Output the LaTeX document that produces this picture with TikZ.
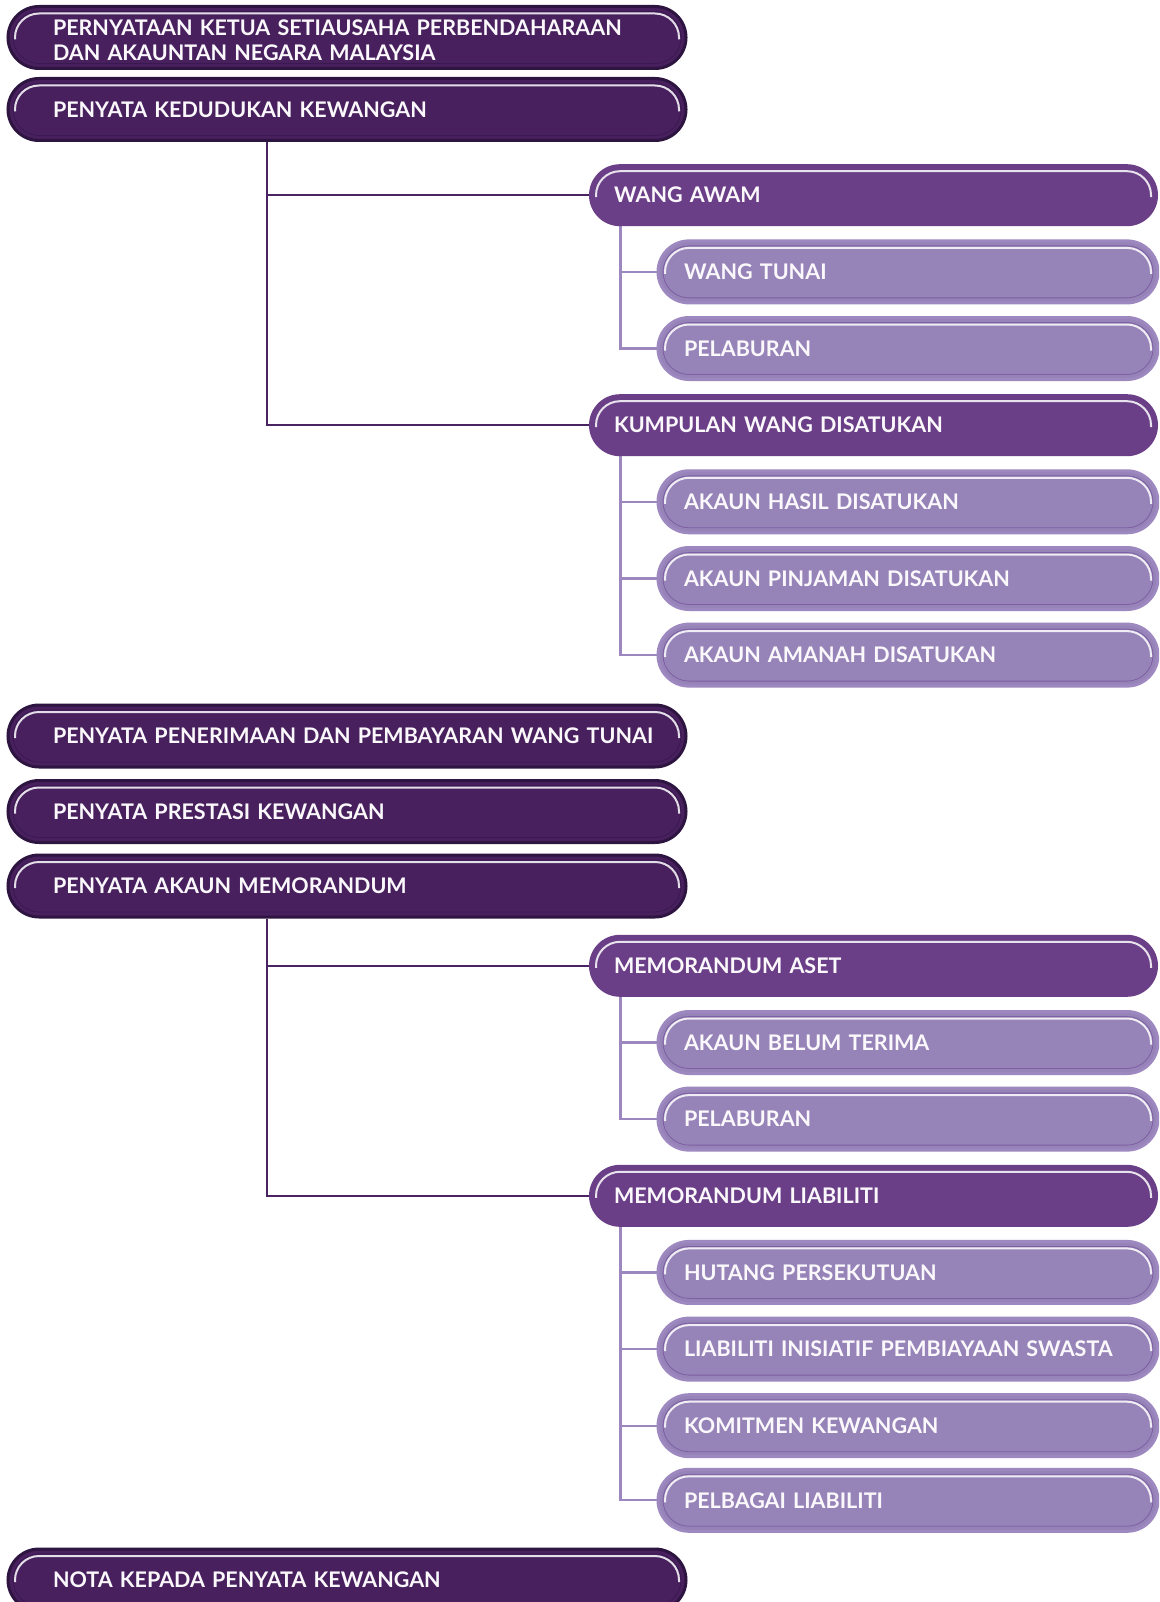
\documentclass[tikz,border=0pt]{standalone}
\usepackage{fontspec}
\setmainfont{Lato}
\usetikzlibrary{calc}
\pgfdeclarelayer{bgzero}
\pgfdeclarelayer{background}
\pgfsetlayers{bgzero,background,main}
\definecolor{dk}{HTML}{48205E}
\definecolor{dkline}{HTML}{2E1440}
\definecolor{dkin}{HTML}{3A1850}
\definecolor{md}{HTML}{6B3F87}
\definecolor{lt}{HTML}{9683B8}
\definecolor{ltring}{HTML}{9E88C0}
\definecolor{ltin}{HTML}{7D5FA2}
\definecolor{cdk}{HTML}{4A2462}
\definecolor{clt}{HTML}{9C88BE}
\definecolor{txt}{HTML}{FBF8FC}
\tikzset{
  pill/.style={rounded corners=31pt, minimum height=62pt, align=left,
    font=\fontsize{21.5}{25}\selectfont\bfseries, text=txt},
  hilite/.style={path picture={
    \ifx#1\empty\else
    \draw[#1, line width=0.8pt, rounded corners=26pt]
      ([shift={(5pt,-5pt)}]path picture bounding box.north west) rectangle
      ([shift={(-5pt,5pt)}]path picture bounding box.south east);
    \fi
    \draw[white, line width=2pt, rounded corners=24pt, opacity=.85]
      ([shift={(7pt,-33pt)}]path picture bounding box.north west) |-
      ([shift={(0pt,-7pt)}]path picture bounding box.north) -|
      ([shift={(-7pt,-33pt)}]path picture bounding box.north east);
  }},
  lvlone/.style={pill, fill=dk, draw=dkline, line width=3pt,
    inner xsep=19pt, text width=640pt,
    execute at begin node={\leftskip=26pt\hyphenpenalty=10000},
    hilite=dkin},
  lvltwo/.style={pill, fill=md, inner xsep=25pt, text width=519pt, hilite=\empty},
  lvlthree/.style={pill, fill=lt, draw=ltring, line width=3pt,
    inner xsep=26pt, text width=448pt, hilite=ltin},
  cone/.style={draw=cdk, line width=2.2pt},
  cthree/.style={draw=clt, line width=2.2pt},
}
\begin{document}
\begin{tikzpicture}[x=1pt,y=-1pt]
\useasboundingbox (0,0) rectangle (1159,1602);
\clip (0,0) rectangle (1159,1602);
\begin{pgfonlayer}{bgzero}
\fill[white] (0,0) rectangle (1159,1602);
\end{pgfonlayer}

% level one
\node[lvlone, text height=22pt] (s1) at (347,37.5) {PERNYATAAN KETUA SETIAUSAHA PERBENDAHARAAN\\DAN AKAUNTAN NEGARA MALAYSIA};
\node[lvlone] (s2) at (347,109.5) {PENYATA KEDUDUKAN KEWANGAN};
\node[lvlone] (s3) at (347,736) {PENYATA PENERIMAAN DAN PEMBAYARAN WANG TUNAI};
\node[lvlone] (s4) at (347,811.5) {PENYATA PRESTASI KEWANGAN};
\node[lvlone] (s5) at (347,886) {PENYATA AKAUN MEMORANDUM};
\node[lvlone] (s6) at (347,1580) {NOTA KEPADA PENYATA KEWANGAN};

% level two
\coordinate (t1) at (267,0);
\coordinate (t2) at (620.5,0);
\node[lvltwo] (wa) at (873.5,195.2) {WANG AWAM};
\node[lvltwo] (kwd) at (873.5,425.2) {KUMPULAN WANG DISATUKAN};
\node[lvltwo] (ma) at (873.5,965.8) {MEMORANDUM ASET};
\node[lvltwo] (ml) at (873.5,1195.8) {MEMORANDUM LIABILITI};

% level three
\node[lvlthree] (wt) at (908,271.9) {WANG TUNAI};
\node[lvlthree] (pl1) at (908,348.5) {PELABURAN};
\node[lvlthree] (ahd) at (908,501.8) {AKAUN HASIL DISATUKAN};
\node[lvlthree] (apd) at (908,578.5) {AKAUN PINJAMAN DISATUKAN};
\node[lvlthree] (aad) at (908,655.1) {AKAUN AMANAH DISATUKAN};
\node[lvlthree] (abt) at (908,1042.5) {AKAUN BELUM TERIMA};
\node[lvlthree] (pl2) at (908,1119.1) {PELABURAN};
\node[lvlthree] (hp) at (908,1272.4) {HUTANG PERSEKUTUAN};
\node[lvlthree] (lip) at (908,1349.1) {LIABILITI INISIATIF PEMBIAYAAN SWASTA};
\node[lvlthree] (kk) at (908,1425.7) {KOMITMEN KEWANGAN};
\node[lvlthree] (pli) at (908,1500.3) {PELBAGAI LIABILITI};

% connectors (behind boxes)
\begin{pgfonlayer}{background}
\draw[cone] (t1 |- s2.south) -- (t1 |- kwd.west) -- (kwd.west);
\draw[cone] (t1 |- wa.west) -- (wa.west);
\draw[cone] (t1 |- s5.south) -- (t1 |- ml.west) -- (ml.west);
\draw[cone] (t1 |- ma.west) -- (ma.west);
\draw[cthree] (t2 |- wa.south) -- (t2 |- pl1.west) -- (pl1.west);
\draw[cthree] (t2 |- wt.west) -- (wt.west);
\draw[cthree] (t2 |- kwd.south) -- (t2 |- aad.west) -- (aad.west);
\draw[cthree] (t2 |- ahd.west) -- (ahd.west);
\draw[cthree] (t2 |- apd.west) -- (apd.west);
\draw[cthree] (t2 |- ma.south) -- (t2 |- pl2.west) -- (pl2.west);
\draw[cthree] (t2 |- abt.west) -- (abt.west);
\draw[cthree] (t2 |- ml.south) -- (t2 |- pli.west) -- (pli.west);
\draw[cthree] (t2 |- hp.west) -- (hp.west);
\draw[cthree] (t2 |- lip.west) -- (lip.west);
\draw[cthree] (t2 |- kk.west) -- (kk.west);
\end{pgfonlayer}
\end{tikzpicture}
\end{document}
